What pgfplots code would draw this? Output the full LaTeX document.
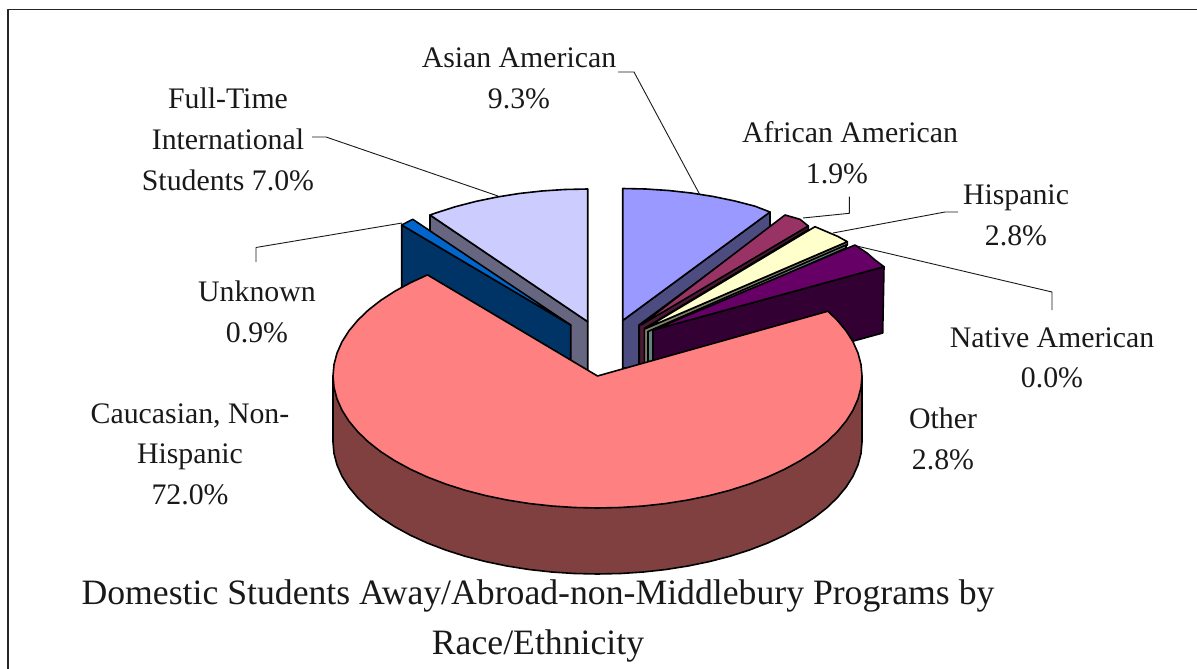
\documentclass[border=0pt]{standalone}
\usepackage{pgfplots}
\pgfplotsset{compat=1.18}
\usepackage{fontspec}
\setmainfont{Liberation Serif}
\definecolor{fA}{HTML}{CCCCFF}\definecolor{sA}{HTML}{666680}
\definecolor{fU}{HTML}{0066CC}\definecolor{sU}{HTML}{003366}
\definecolor{fB}{HTML}{9999FF}\definecolor{sB}{HTML}{4C4C80}
\definecolor{fM}{HTML}{993366}\definecolor{sM}{HTML}{4C1933}
\definecolor{fC}{HTML}{FFFFCC}\definecolor{sC}{HTML}{808066}
\definecolor{sT}{HTML}{668080}
\definecolor{fP}{HTML}{660066}\definecolor{sP}{HTML}{330033}
\definecolor{fR}{HTML}{FF8080}\definecolor{sR}{HTML}{804040}
\tikzset{lab/.style={anchor=base,font=\fontsize{29.8}{29.8}\selectfont,inner sep=0pt,text=black!90},
 ttl/.style={anchor=base,font=\fontsize{35.7}{35.7}\selectfont,inner sep=0pt,text=black!90}}
\begin{document}
\begin{tikzpicture}
\useasboundingbox (0,0) rectangle (1197pt,669pt);
\begin{axis}[at={(0,0)},anchor=south west,width=1197pt,height=669pt,scale only axis,
 xmin=0,xmax=1197,ymin=0,ymax=669,y dir=reverse,axis lines=none,clip=false,no markers,
 every axis plot/.append style={line join=round}]
% frame
\addplot[draw=black!85,line width=1.6pt] coordinates {(8,669)(8,9.5)(1197,9.5)};
% leaders
\pgfplotsset{leader/.style={draw=black!90,line width=0.9pt}}
\addplot[leader] coordinates {(618,72)(634,72)(700,195)};
\addplot[leader] coordinates {(803,218)(849.3,213.3)(849.3,196.7)};
\addplot[leader] coordinates {(833,233)(945,212)(958,212)};
\addplot[leader] coordinates {(856.7,246)(1052,292)(1052,310)};
\addplot[leader] coordinates {(312,137)(326,137)(498,196)};
\addplot[leader] coordinates {(256,262)(256,247.5)(402,223)};
\pgfplotsset{sl/.style={draw=black,line width=1.6pt,fill=#1}}
% Full-Time International
\addplot[sl=sA] coordinates {(430,215)(587.7,321.7)(587.7,388)(430,281)} -- cycle;
\addplot[sl=fA] coordinates {(587.7,321.7)(430,215)(436,212.9)(455.4,206.7)(475.9,201.4)(497.2,197)(519.2,193.5)(541.8,191)(564.6,189.5)(587.7,189)} -- cycle;
% Unknown
\addplot[sl=sU] coordinates {(401.7,225)(570.7,325)(570.7,395)(401.7,291)} -- cycle;
\addplot[sl=fU] coordinates {(401.7,225)(412.7,219.3)(570.7,325)} -- cycle;
% Asian American
\addplot[sl=sB] coordinates {(622.7,320.5)(770,212)(770,228)(639,325)(639,368)(622.7,368)} -- cycle;
\addplot[sl=fB] coordinates {(622.7,320.5)(622.7,188.5)(645.8,189)(668.6,190.5)(691.2,193)(713.2,196.5)(734.5,200.9)(755,206.2)(770,212)} -- cycle;
% African American
\addplot[sl=sM] coordinates {(639.3,325)(808.3,226)(808.3,229.5)(645,328)(645,368)(639.3,368)} -- cycle;
\addplot[sl=fM] coordinates {(641,325)(785,215)(800,219.3)(808.3,226)} -- cycle;
% Hispanic
\addplot[sl=sC] coordinates {(644.3,329)(847.3,241.7)(847.3,245)(648,332)(648,368)(644.3,368)} -- cycle;
\addplot[sl=fC] coordinates {(644.3,329)(815,226.7)(826.7,231.7)(838,236.5)(847.3,241.7)} -- cycle;
% Native American
\addplot[sl=sT] coordinates {(648,331.5)(846,245)(846,248)(653,333)(653,368)(648,368)} -- cycle;
% Other
\addplot[sl=sP] coordinates {(653,330)(884,266.7)(882.7,333)(653,396)} -- cycle;
\addplot[sl=fP] coordinates {(653,330)(855,245)(867,253)(875,260)(884,266.7)} -- cycle;
% Caucasian side
\addplot[sl=sR] coordinates {(333,376)(862,376)(862,442)(861,453.5)(858,464.9)(853,476.2)(846.1,487.1)(837.2,497.8)(826.6,508)(814.2,517.7)(800.1,526.8)(784.5,535.3)(767.5,543.1)(749.2,550.1)(729.8,556.3)(709.3,561.6)(688,566)(666,569.5)(643.4,572)(620.6,573.5)(597.5,574)(574.4,573.5)(551.6,572)(529,569.5)(507,566)(485.7,561.6)(465.2,556.3)(445.8,550.1)(427.5,543.1)(410.5,535.3)(394.9,526.8)(380.8,517.7)(368.4,508)(357.8,497.8)(348.9,487.1)(342,476.2)(337,464.9)(334,453.5)(333,442)} -- cycle;
% Caucasian top
\addplot[sl=fR] coordinates {(597.5,376)(427.5,274.9)(410.5,282.7)(394.9,291.2)(380.8,300.3)(368.4,310)(357.8,320.2)(348.9,330.9)(342,341.8)(337,353.1)(334,364.5)(333,376)(334,387.5)(337,398.9)(342,410.2)(348.9,421.1)(357.8,431.8)(368.4,442)(380.8,451.7)(394.9,460.8)(410.5,469.3)(427.5,477.1)(445.8,484.1)(465.2,490.3)(485.7,495.6)(507,500)(529,503.5)(551.6,506)(574.4,507.5)(597.5,508)(620.6,507.5)(643.4,506)(666,503.5)(688,500)(709.3,495.6)(729.8,490.3)(749.2,484.1)(767.5,477.1)(784.5,469.3)(800.1,460.8)(814.2,451.7)(826.6,442)(837.2,431.8)(846.1,421.1)(853,410.2)(858,398.9)(861,387.5)(862,376)(861,364.5)(858,353.1)(853,341.8)(846.1,330.9)(837.2,320.2)(827.9,311.2)} -- cycle;
% labels
\node[lab] at (519,67) {Asian American};
\node[lab] at (519,108) {9.3\%};
\node[lab] at (850,142) {African American};
\node[lab] at (837,183) {1.9\%};
\node[lab] at (1016,204) {Hispanic};
\node[lab] at (1016,245) {2.8\%};
\node[lab] at (1052,347) {Native American};
\node[lab] at (1052,387) {0.0\%};
\node[lab] at (943,428) {Other};
\node[lab] at (943,469) {2.8\%};
\node[lab] at (190,423) {Caucasian, Non-};
\node[lab] at (190,463) {Hispanic};
\node[lab] at (190,504) {72.0\%};
\node[lab] at (257,301) {Unknown};
\node[lab] at (257,342) {0.9\%};
\node[lab] at (228,108) {Full-Time};
\node[lab] at (228,149) {International};
\node[lab] at (228,190) {Students 7.0\%};
\node[ttl] at (538,604) {Domestic Students Away/Abroad-non-Middlebury Programs by};
\node[ttl] at (538,654) {Race/Ethnicity};
\end{axis}
\end{tikzpicture}
\end{document}
